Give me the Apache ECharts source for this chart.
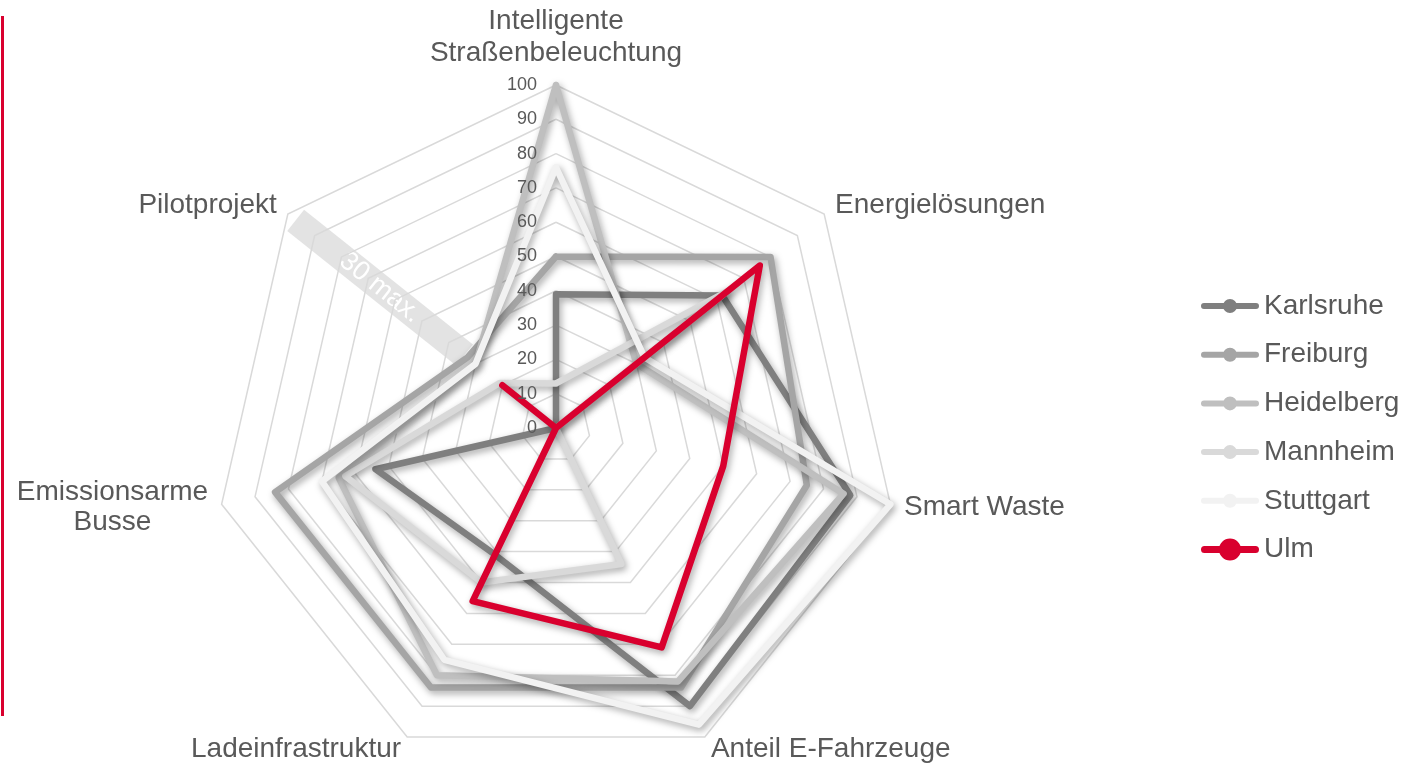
<!DOCTYPE html>
<html>
<head>
<meta charset="utf-8">
<script src="https://cdn.jsdelivr.net/npm/echarts@6/dist/echarts.min.js"></script>
<style>
html,body{margin:0;padding:0;background:#fff;}
#chart{width:1418px;height:765px;}
</style>
</head>
<body>
<div id="chart"></div>
<script>
// Categories in the reference's clockwise order, starting at the top
const categories = ['Intelligente\nStraßenbeleuchtung', 'Energielösungen', 'Smart Waste', 'Anteil E-Fahrzeuge', 'Ladeinfrastruktur', 'Emissionsarme\nBusse', 'Pilotprojekt'];
const cities = ['Karlsruhe', 'Freiburg', 'Heidelberg', 'Mannheim', 'Stuttgart', 'Ulm'];
const karlsruhe  = [39, 62, 88, 90, 41, 54, 0];
const freiburg   = [50, 80, 75, 84, 84, 84, 33];
const heidelberg = [100, 30, 86, 82, 80, 65, 30];
const mannheim   = [13, 64, 0, 44, 50, 63, 21];
const stuttgart  = [76, 33, 100, 96, 75, 70, 30];
const ulm        = [0, 76, 50, 71, 56, 0, 20];
const axisTicks  = [0, 10, 20, 30, 40, 50, 60, 70, 80, 90, 100];
const annotation = '30 max.';

const seriesValues = [karlsruhe, freiburg, heidelberg, mannheim, stuttgart, ulm];
const colors = ['#7f7f7f', '#a5a5a5', '#bfbfbf', '#d9d9d9', '#f2f2f2', '#d9002e'];

// ECharts lays radar indicators out counter-clockwise: reorder to match the clockwise reference
const order = [0, 6, 5, 4, 3, 2, 1];
const reorder = arr => order.map(i => arr[i]);

const CX = 556, CY = 428, R = 343;
const FONT = '"Liberation Sans", Arial, sans-serif';
const TXT = '#595959';

const chart = echarts.init(document.getElementById('chart'), null, {renderer: 'canvas'});

const baseIndicators = reorder(categories).map(name => ({name: name, min: axisTicks[0], max: axisTicks[axisTicks.length - 1]}));
const labelIndicators = reorder(categories).map((name, i) => {
  const ind = {name: name, min: axisTicks[0], max: axisTicks[axisTicks.length - 1]};
  if (i === 0) {
    ind.axisLabel = {show: true, color: TXT, fontSize: 18, fontFamily: FONT, margin: 19};
  }
  return ind;
});

const grayIcon = 'path://M3,8 L55,8 A3,3 0 0 1 55,14 L3,14 A3,3 0 0 1 3,8 Z M29,4 A7,7 0 1 1 28.99,4 Z';
const redIcon  = 'path://M3.5,7.5 L54.5,7.5 A3.5,3.5 0 0 1 54.5,14.5 L3.5,14.5 A3.5,3.5 0 0 1 3.5,7.5 Z M29,0 A11,11 0 1 1 28.99,0 Z';

// "30 max." band along the Pilotprojekt spoke
const pAng = (90 + 360 / 7) * Math.PI / 180;
const bandR = 225;
const bx = CX + Math.cos(pAng) * bandR;
const by = CY - Math.sin(pAng) * bandR;
const tilt = -(Math.PI - pAng);

const option = {
  backgroundColor: '#ffffff',
  animation: false,
  color: colors,
  legend: {
    orient: 'vertical',
    left: 1196,
    top: 287,
    itemWidth: 58,
    itemHeight: 22,
    itemGap: 20.7,
    symbolKeepAspect: true,
    textStyle: {color: TXT, fontSize: 28, fontFamily: FONT, lineHeight: 28},
    data: cities.map((c, i) => ({
      name: c,
      icon: i === cities.length - 1 ? redIcon : grayIcon,
      itemStyle: {color: colors[i], borderWidth: 0}
    }))
  },
  radar: [
    {
      center: [CX, CY],
      radius: R,
      shape: 'polygon',
      splitNumber: axisTicks.length - 1,
      startAngle: 90,
      nameGap: 14,
      z: 0,
      axisName: {
        color: TXT,
        fontSize: 28,
        fontFamily: FONT,
        lineHeight: 32,
        formatter: function (name) {
          if (name.indexOf('Emissionsarme') === 0) {
            return name.split('\n').map(s => '{c|' + s + '}').join('\n');
          }
          if (name.indexOf('Intelligente') === 0) {
            return name.split('\n').map(s => '{t|' + s + '}').join('\n');
          }
          return name;
        },
        rich: {
          c: {width: 191, align: 'center', color: TXT, fontSize: 28, fontFamily: FONT, lineHeight: 30},
          t: {color: TXT, fontSize: 28, fontFamily: FONT, lineHeight: 32, padding: [0, 0, 3, 0]}
        }
      },
      axisLine: {show: false},
      axisTick: {show: false},
      axisLabel: {show: false},
      splitArea: {show: false},
      splitLine: {lineStyle: {color: '#d9d9d9', width: 1.5}},
      indicator: baseIndicators
    },
    {
      center: [CX, CY],
      radius: R,
      shape: 'polygon',
      splitNumber: axisTicks.length - 1,
      startAngle: 90,
      z: 10,
      axisName: {show: false},
      axisLine: {show: false},
      axisTick: {show: false},
      axisLabel: {show: false},
      splitArea: {show: false},
      splitLine: {show: false},
      indicator: labelIndicators
    }
  ],
  graphic: [
    {
      type: 'rect', left: 1, top: 16, z: 10,
      shape: {width: 3, height: 700},
      style: {fill: '#d9002e'}
    },
    {
      type: 'group', x: bx, y: by, rotation: tilt, z: 0,
      children: [
        {type: 'rect', shape: {x: -108, y: -13.5, width: 216, height: 27}, style: {fill: '#e3e3e3'}},
        {type: 'text', style: {text: annotation, x: 0, y: 0, align: 'center', verticalAlign: 'middle', fill: '#ffffff', fontSize: 27, fontFamily: FONT}}
      ]
    }
  ],
  series: cities.map((c, i) => ({
    type: 'radar',
    name: c,
    radarIndex: 0,
    symbol: 'none',
    z: 2,
    itemStyle: {color: colors[i]},
    lineStyle: {
      color: colors[i],
      width: 6.5,
      cap: 'round',
      join: 'round',
      shadowColor: 'rgba(0,0,0,0.35)',
      shadowBlur: 7,
      shadowOffsetX: 2,
      shadowOffsetY: 3
    },
    data: [{name: c, value: reorder(seriesValues[i])}]
  }))
};

chart.setOption(option);
</script>
</body>
</html>
